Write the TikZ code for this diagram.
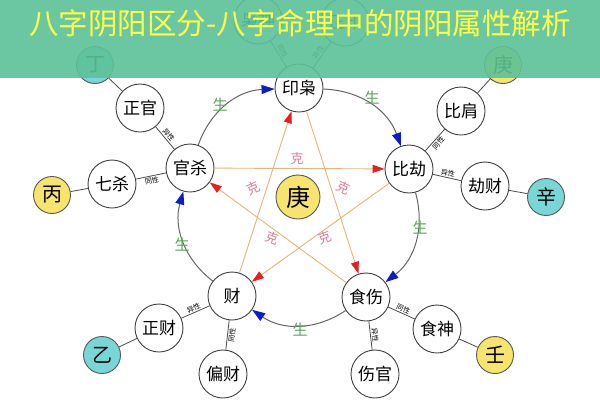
\documentclass[tikz,border=0pt]{standalone}
\usepackage{fontspec}
\newfontfamily\cjk{Noto Sans CJK SC}
\usetikzlibrary{arrows.meta}
\definecolor{stemyellow}{RGB}{246,228,110}
\definecolor{stemcyan}{RGB}{120,214,214}
\definecolor{arrblue}{RGB}{10,30,200}
\definecolor{arrred}{RGB}{235,30,30}
\definecolor{keline}{RGB}{232,180,120}
\definecolor{shenggreen}{RGB}{90,165,90}
\definecolor{kepink}{RGB}{225,120,150}
\definecolor{bannergreen}{RGB}{92,194,152}
\definecolor{titleyellow}{RGB}{255,255,70}
\begin{document}
\begin{tikzpicture}[x=1pt,y=-1pt,
  ten/.style={circle,draw=black!75,line width=0.9pt,fill=white,minimum size=48pt,inner sep=0pt,font=\cjk\fontsize{17}{17}\selectfont},
  stem/.style={circle,draw=black!65,line width=0.9pt,minimum size=37pt,inner sep=0pt,font=\cjk\fontsize{20}{20}\selectfont},
  yel/.style={stem,fill=stemyellow},
  cyn/.style={stem,fill=stemcyan},
  gen/.style={draw=black!60,line width=1pt,bend left=34,-{Triangle[length=13pt,width=9pt,color=arrblue]}},
  ke/.style={draw=keline,line width=0.9pt,-{Triangle[length=12pt,width=8pt,color=arrred]}},
  branch/.style={draw=black!70,line width=0.8pt},
  blab/.style={font=\cjk\fontsize{7}{7}\selectfont,sloped,inner sep=1pt},
  sheng/.style={font=\cjk\fontsize{15}{15}\selectfont,text=shenggreen},
  kelab/.style={font=\cjk\fontsize{13}{13}\selectfont,text=kepink}]
\useasboundingbox (0,0) rectangle (600,400);
\fill[white] (0,0) rectangle (600,400);

% main five
\node[ten] (yin) at (299,88) {印枭};
\node[ten] (bj) at (409,169) {比劫};
\node[ten] (ss) at (366,297) {食伤};
\node[ten] (cai) at (232,296) {财};
\node[ten] (gs) at (190,168) {官杀};
% leaves
\node[ten] (xiao) at (258,20) {枭神};
\node[ten] (zy) at (345,22) {正印};
\node[ten] (zg) at (140,108) {正官};
\node[ten] (qs) at (112,184) {七杀};
\node[ten] (bjian) at (461,111) {比肩};
\node[ten] (jc) at (485,186) {劫财};
\node[ten] (zc) at (159,328) {正财};
\node[ten] (pc) at (223,374) {偏财};
\node[ten] (shen) at (437,329) {食神};
\node[ten] (sg) at (375,374) {伤官};
% stems
\node[cyn] (ding) at (95,65) {丁};
\node[yel] (bing) at (52,195) {丙};
\node[yel] (geng2) at (503,65) {庚};
\node[cyn] (xin) at (546,197) {辛};
\node[cyn] (yi) at (102,355) {乙};
\node[yel] (ren) at (495,355) {壬};
\node[yel,minimum size=44pt,font=\cjk\fontsize{24}{24}\selectfont] (geng) at (298,197) {庚};

% branches
\draw[branch] (yin) -- node[blab,above] {同性} (xiao);
\draw[branch] (yin) -- node[blab,above] {异性} (zy);
\draw[branch] (gs) -- node[blab,above] {异性} (zg);
\draw[branch] (gs) -- node[blab,below] {同性} (qs);
\draw[branch] (bj) -- node[blab,below,pos=0.5] {同性} (bjian);
\draw[branch] (bj) -- node[blab,above] {异性} (jc);
\draw[branch] (cai) -- node[blab,above] {异性} (zc);
\draw[branch] (cai) -- node[blab,below] {同性} (pc);
\draw[branch] (ss) -- node[blab,above] {同性} (shen);
\draw[branch] (ss) -- node[blab,above] {异性} (sg);
\draw[branch] (zg) -- (ding);
\draw[branch] (qs) -- (bing);
\draw[branch] (bjian) -- (geng2);
\draw[branch] (jc) -- (xin);
\draw[branch] (zc) -- (yi);
\draw[branch] (shen) -- (ren);

% generating cycle
\draw[gen] (yin) to (bj);
\draw[gen] (bj) to (ss);
\draw[gen] (ss) to (cai);
\draw[gen] (cai) to (gs);
\draw[gen] (gs) to (yin);

% controlling star
\draw[ke] (yin) -- (ss);
\draw[ke] (ss) -- (gs);
\draw[ke] (gs) -- (bj);
\draw[ke] (bj) -- (cai);
\draw[ke] (cai) -- (yin);

% labels
\node[sheng] (s1) at (220,105) {生};
\node[sheng] (s2) at (372,98) {生};
\node[sheng] (s3) at (420,228) {生};
\node[sheng] (s4) at (182,245) {生};
\node[sheng] (s5) at (300,330) {生};
\node[kelab] (k1) at (297,159) {克};
\node[kelab,rotate=25] (k2) at (253,188) {克};
\node[kelab,rotate=-25] (k3) at (343,188) {克};
\node[kelab,rotate=-20] (k4) at (272,238) {克};
\node[kelab,rotate=20] (k5) at (325,238) {克};

% banner
\fill[bannergreen,opacity=0.9] (0,0) rectangle (600,78);
\node[font=\cjk\fontsize{29.5}{29.5}\selectfont,text=titleyellow,inner sep=0pt] (title) at (300,23) {八字阴阳区分-八字命理中的阴阳属性解析};
\end{tikzpicture}
\end{document}
